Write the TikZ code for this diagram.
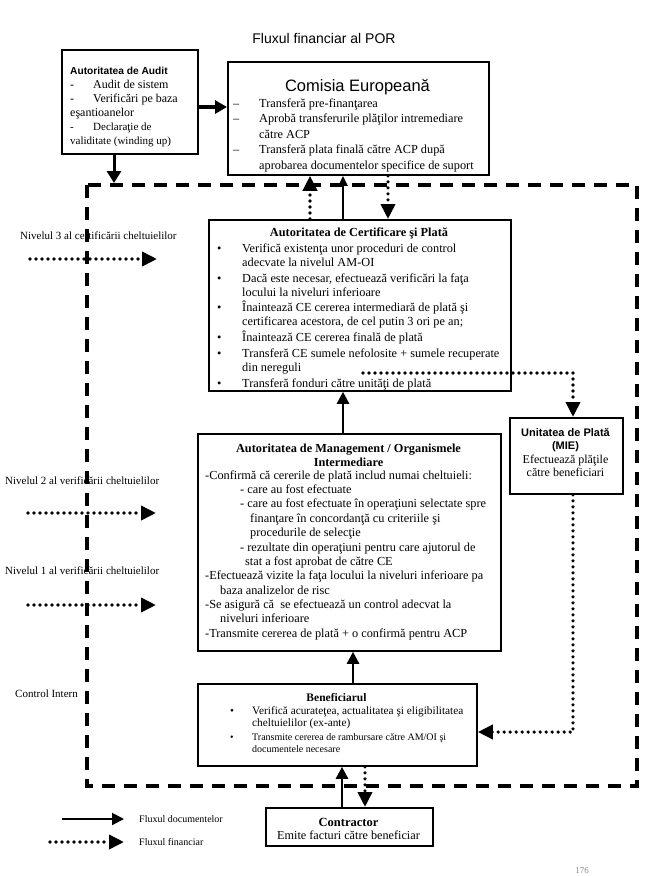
\documentclass[tikz,border=0pt]{standalone}
\usepackage{fontspec}
\setmainfont{Liberation Serif}
\setsansfont{Liberation Sans}
\usetikzlibrary{arrows.meta}
\newcommand{\tstr}{\rule{0pt}{12pt}}
\newcommand{\fsz}[2]{\fontsize{#1}{#2}\selectfont}
\newcommand{\bul}{\makebox[25pt][l]{\textbullet}}
\newcommand{\ind}{\hspace*{25pt}}
\begin{document}
\begin{tikzpicture}[x=1pt,y=-1pt,
  box/.style={draw, line width=1.8pt, inner sep=0pt, anchor=north west},
  txt/.style={inner sep=0pt, anchor=north west, align=left},
  lbl/.style={inner sep=0pt, anchor=base},
  doc/.style={line width=2.6pt, -{Triangle[length=12pt,width=12pt]}},
  docs/.style={line width=2.2pt, -{Triangle[length=10pt,width=9pt]}},
  fin/.style={line width=3.6pt, line cap=round, dash pattern=on 0pt off 6pt, -{Triangle[length=15pt,width=14pt]}},
  frame/.style={line width=4.5pt, dash pattern=on 13pt off 9pt},
]
\useasboundingbox[fill=white] (0,0) rectangle (663,876);

% title
\node[lbl, font=\sffamily\fsz{14}{16}] (title) at (324,43) {Fluxul financiar al POR};

% boxes
\node[box, minimum width=136pt, minimum height=104pt] (audit) at (61,49) {};
\node[box, minimum width=261pt, minimum height=113pt] (ce) at (227,61) {};
\node[box, minimum width=302pt, minimum height=171pt] (acp) at (208,219) {};
\node[box, minimum width=113pt, minimum height=76pt] (up) at (509,417) {};
\node[box, minimum width=303pt, minimum height=217pt] (am) at (197,433) {};
\node[box, minimum width=279pt, minimum height=82pt] (ben) at (197,683) {};
\node[box, minimum width=167pt, minimum height=38pt] (con) at (265,807) {};

% audit text
\node[txt, font=\fsz{12}{14}] (audittxt) at (70,62.6) {\tstr{\sffamily\bfseries\fsz{10.2}{14}Autoritatea de Audit}\\
\makebox[23pt][l]{-}Audit de sistem\\
\makebox[23pt][l]{-}Verificări pe baza\\
eşantioanelor\\
{\fsz{11}{14}\makebox[23pt][l]{-}Declaraţie de}\\
{\fsz{11}{14}validitate (winding up)}};

% CE text
\node[lbl, font=\sffamily\fsz{16.5}{18}] (cetitle) at (357.5,91) {Comisia Europeană};
\node[txt, font=\fsz{12.3}{15.5}] (cetxt) at (233,95) {\tstr\makebox[26pt][l]{–}Transferă pre-finanţarea\\
\makebox[26pt][l]{–}Aprobă transferurile plăţilor intremediare\\
\hspace*{26pt}către ACP\\
\makebox[26pt][l]{–}Transferă plata finală către ACP după\\
\hspace*{26pt}aprobarea documentelor specifice de suport};

% ACP text
\node[lbl, font=\bfseries\fsz{12.3}{14}] (acph) at (359,236) {Autoritatea de Certificare şi Plată};
\node[txt, font=\fsz{12.3}{14}] (acptxt) at (217,240) {\tstr\bul Verifică existenţa unor proceduri de control\\
\ind adecvate la nivelul AM-OI\\[1.8pt]
\bul Dacă este necesar, efectuează verificări la faţa\\
\ind locului la niveluri inferioare\\[1.8pt]
\bul Înaintează CE cererea intermediară de plată şi\\
\ind certificarea acestora, de cel putin 3 ori pe an;\\[1.8pt]
\bul Înaintează CE cererea finală de plată\\[1.8pt]
\bul Transferă CE sumele nefolosite + sumele recuperate\\
\ind din nereguli\\[1.8pt]
\bul Transferă fonduri către unităţi de plată};

% Unitatea de plata
\node[lbl, font=\sffamily\bfseries\fsz{11}{13}] (uph) at (565.5,436) {Unitatea de Plată};
\node[lbl, font=\sffamily\bfseries\fsz{11}{13}] (uph2) at (565.5,449) {(MIE)};
\node[lbl, font=\fsz{12}{13}] (uptxt) at (565.5,463) {Efectuează plăţile};
\node[lbl, font=\fsz{12}{13}] (uptxt2) at (565.5,476) {către beneficiari};

% AM text
\node[inner sep=0pt, anchor=north, align=center, font=\bfseries\fsz{12.3}{14}] (amh) at (348.5,440) {\tstr Autoritatea de Management / Organismele\\Intermediare};
\node[txt, font=\fsz{12.3}{14.36}] (amtxt) at (205,467) {\tstr -Confirmă că cererile de plată includ numai cheltuieli:\\
\hspace*{35pt}- care au fost efectuate\\
\hspace*{35pt}- care au fost efectuate în operaţiuni selectate spre\\
\hspace*{45pt}finanţare în concordanţă cu criteriile şi\\
\hspace*{45pt}procedurile de selecţie\\
\hspace*{35pt}- rezultate din operaţiuni pentru care ajutorul de\\
\hspace*{40pt}stat a fost aprobat de către CE\\
-Efectuează vizite la faţa locului la niveluri inferioare pa\\
\hspace*{15pt}baza analizelor de risc\\
-Se asigură că \ se efectuează un control adecvat la\\
\hspace*{15pt}niveluri inferioare\\
-Transmite cererea de plată + o confirmă pentru ACP};

% Beneficiar text
\node[lbl, font=\bfseries\fsz{11.5}{13}] (benh) at (336.5,701) {Beneficiarul};
\node[txt, font=\fsz{11.3}{12.7}] (bentxt) at (230,702) {\tstr\makebox[22pt][l]{\textbullet}Verifică acurateţea, actualitatea şi eligibilitatea\\
\hspace*{22pt}cheltuielilor (ex-ante)\\[0.5pt]
{\fsz{10}{12.7}\makebox[22pt][l]{\textbullet}Transmite cererea de rambursare către AM/OI şi}\\
{\fsz{10}{12.7}\hspace*{22pt}documentele necesare}};

% Contractor text
\node[lbl, font=\bfseries\fsz{12.5}{14}] (conh) at (348.5,826) {Contractor};
\node[lbl, font=\fsz{12.2}{14}] (contxt) at (348.5,839) {Emite facturi către beneficiar};

% left labels
\node[inner sep=0pt, anchor=base west, font=\fsz{11}{13}] (n3) at (20,239) {Nivelul 3 al certificării cheltuielilor};
\node[inner sep=0pt, anchor=base west, font=\fsz{11}{13}] (n2) at (5,484) {Nivelul 2 al verificării cheltuielilor};
\node[inner sep=0pt, anchor=base west, font=\fsz{11}{13}] (n1) at (5,574) {Nivelul 1 al verificării cheltuielilor};
\node[inner sep=0pt, anchor=base west, font=\fsz{11}{13}] (ci) at (15,697) {Control Intern};

% legend
\node[inner sep=0pt, anchor=base west, font=\fsz{10}{12}] (lg1) at (139,822) {Fluxul documentelor};
\node[inner sep=0pt, anchor=base west, font=\fsz{10}{12}] (lg2) at (139,845) {Fluxul financiar};
\node[lbl, font=\fsz{9}{11}, text=black!45] (pg) at (582,873) {176};

% coordinates
\coordinate (ay) at (0,107);
\coordinate (ftop) at (114,183);
\coordinate (c310) at (310,0);
\coordinate (c343) at (343,0);
\coordinate (c388) at (388,0);
\coordinate (c353) at (353,0);
\coordinate (c342) at (342,0);
\coordinate (c365) at (365,0);
\coordinate (c573) at (573,0);
\coordinate (fs) at (363,373);
\coordinate (fc) at (573,373);
\coordinate (bc) at (573,732);
\coordinate (a3s) at (30,259);  \coordinate (a3e) at (157,259);
\coordinate (a2s) at (28,513);  \coordinate (a2e) at (156,513);
\coordinate (a1s) at (28,605);  \coordinate (a1e) at (156,605);
\coordinate (l1s) at (62,819);  \coordinate (l1e) at (124,819);
\coordinate (l2s) at (50,842);  \coordinate (l2e) at (124,842);

% connectors
\draw[doc, line width=3.5pt, -{Triangle[length=12pt,width=13pt]}] (audit.east |- ay) -- (ce.west |- ay);
\draw[doc, line width=3pt, -{Triangle[length=12pt,width=14pt]}] (audit.south -| ftop) -- (ftop);
\draw[fin] (acp.north -| c310) -- (ce.south -| c310);
\draw[docs] (acp.north -| c343) -- (ce.south -| c343);
\draw[fin] (ce.south -| c388) -- (acp.north -| c388);
\draw[doc] (am.north -| c343) -- (acp.south -| c343);
\draw[doc] (ben.north -| c353) -- (am.south -| c353);
\draw[doc] (con.north -| c342) -- (ben.south -| c342);
\draw[fin] (ben.south -| c365) -- (con.north -| c365);
\draw[fin] (fs) -- (fc) -- (up.north -| c573);
\draw[fin] (up.south -| c573) -- (bc) -- (ben.east |- bc);

\draw[fin] (a3s) -- (a3e);
\draw[fin] (a2s) -- (a2e);
\draw[fin] (a1s) -- (a1e);
\draw[doc, line width=2pt] (l1s) -- (l1e);
\draw[fin] (l2s) -- (l2e);

% dashed frame
\draw[frame] (87,185) rectangle (637,786);
\end{tikzpicture}
\end{document}
